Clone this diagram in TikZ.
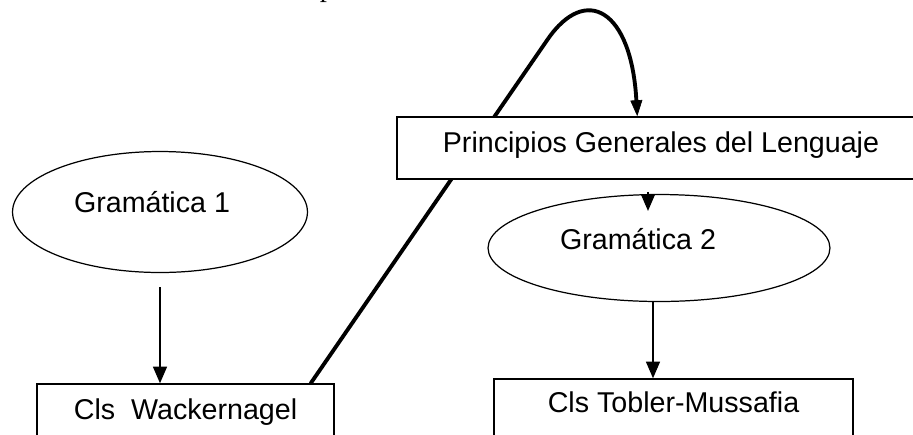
\documentclass[tikz,border=0pt]{standalone}
\usepackage{fontspec}
\setmainfont{Liberation Sans}
\newfontfamily\capfont{Liberation Serif}
\usetikzlibrary{arrows.meta, calc, shapes.geometric, backgrounds}

\begin{document}
\begin{tikzpicture}[x=0.02cm, y=-0.02cm,
    every node/.style={font=\fontsize{16.3}{20}\selectfont, inner sep=0pt},
    box/.style={draw, rectangle, fill=white, line width=0.9pt, text height=0.75em, text depth=0.25em},
    oval/.style={draw, ellipse, line width=0.7pt},
    arr/.style={-{Triangle[length=3.3mm, width=2.8mm]}, line width=0.6pt},
    loopline/.style={-{Triangle[length=3.2mm, width=2.4mm, line width=0.4pt]}, line width=2.2pt, line cap=round}]
    \useasboundingbox (0,0) rectangle (913,434);
    \begin{scope}
        \clip (0,0) rectangle (913,434);
        \node[font=\capfont\fontsize{16.3}{20}\selectfont, anchor=south] (cap) at (327,3) {p};
    \end{scope}
    \node[oval, minimum width=5.9cm, minimum height=2.42cm] (g1) at (160,212) {};
    \node (g1txt) at ($(g1)+(-8,-10)$) {Gramática 1};
    \node[oval, minimum width=6.84cm, minimum height=2.14cm] (g2) at (659,248) {};
    \node (g2txt) at ($(g2)+(-21,-9)$) {Gramática 2};
    \node[box, minimum width=10.56cm, minimum height=1.24cm] (pg) at (661,148) {Principios Generales del Lenguaje};
    \node[box, minimum width=5.94cm, minimum height=1.24cm] (wk) at (185.5,415) {Cls\ \ Wackernagel};
    \node[box, minimum width=7.18cm, minimum height=1.24cm, text depth=0.52em] (tb) at (673.5,410) {Cls Tobler-Mussafia};
    \draw[arr] ($(g1.south)+(0,14)$) -- (g1.south |- wk.north);
    \coordinate (g2b) at ($(g2.south)+(-6,0)$);
    \draw[arr] (g2b) -- (g2b |- tb.north);
    \coordinate (g2t) at ($(g2.north)+(-11,-2)$);
    \coordinate (g2in) at ($(g2t)+(0,19)$);
    \draw[arr] (g2t) -- (g2in);
    \begin{scope}[on background layer]
        \draw[loopline] ($(wk.north east)+(-24,0)$) -- ++(237,-344) .. controls +(38,-55) and +(-6,-107) .. ($(pg.north west)+(241,0)$);
    \end{scope}
\end{tikzpicture}
\end{document}
